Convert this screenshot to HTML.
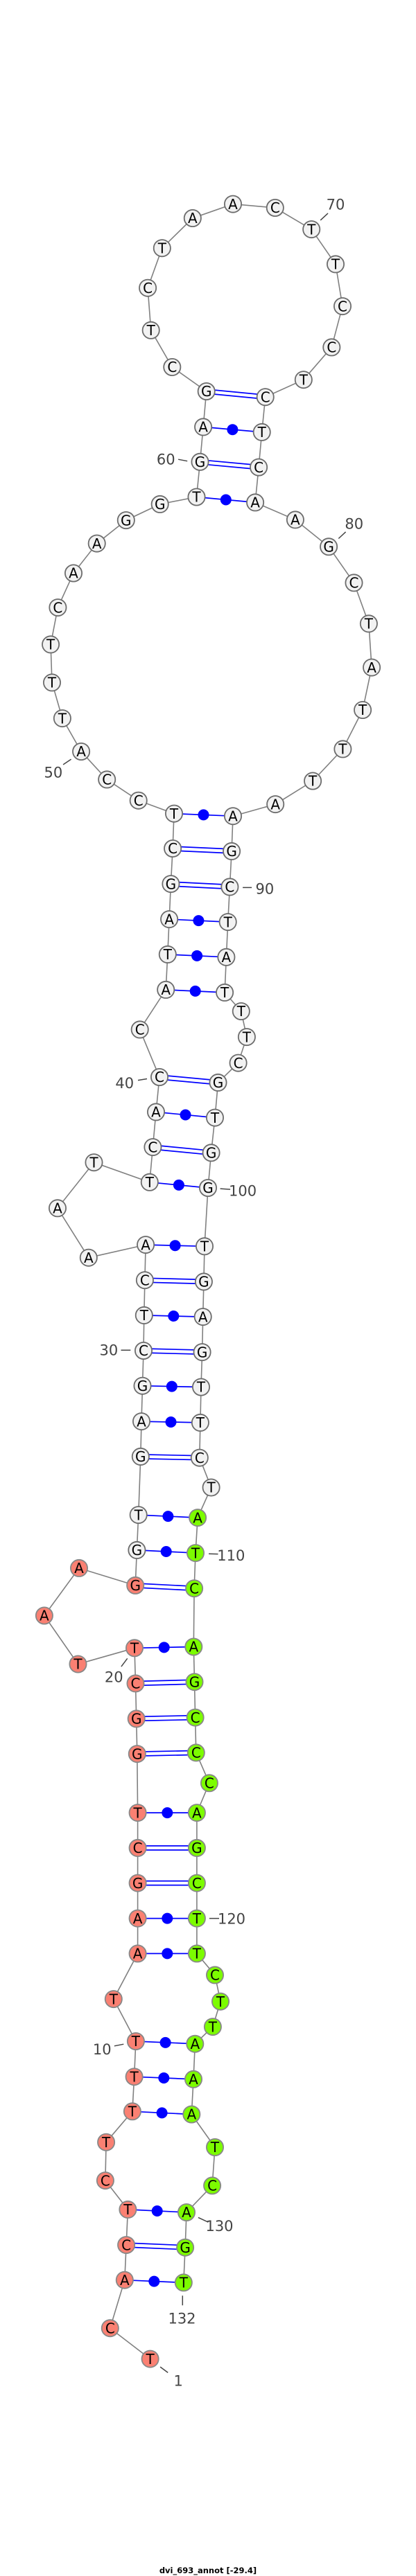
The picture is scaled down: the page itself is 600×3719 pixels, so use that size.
<!DOCTYPE html>
<html><head><meta charset="utf-8"><style>
html,body{margin:0;padding:0;background:#fff}
svg{display:block}
.n text,.l text{font-family:"DejaVu Sans","Liberation Sans",sans-serif;text-anchor:middle}
.n text{font-size:20px;fill:#000}
.l text{font-size:21px;fill:#444}
</style></head><body>
<svg xmlns="http://www.w3.org/2000/svg" width="600" height="3719" viewBox="0 0 600 3719">
<rect width="600" height="3719" fill="#fff"/>
<polyline fill="none" stroke="#808080" stroke-width="1.6" points="216.6,3405.6 158.8,3361.2 179.8,3291.7 182.1,3241.1 184.4,3189.9 151.9,3148.1 153.1,3092.7 190.9,3048.3 193.6,2998.2 195.9,2947 163.8,2886.1 198.6,2820.4 198.6,2769.6 198.6,2718.6 198.6,2667.9 198.6,2617.1 197.8,2532.1 196.7,2481.4 195.5,2430.4 194,2379.3 112.5,2402.5 63.9,2332.5 114,2263.9 195.2,2288.9 197.4,2237.9 199.7,2187.1 202.8,2102.9 204,2052.1 205.5,2000.7 207,1950 207.8,1898.9 208.9,1848.2 210.1,1797.1 127.8,1815.7 83,1744.3 135.5,1678.2 215.8,1706.8 220.4,1656.1 225,1605.4 230,1555 201.7,1486.4 239.2,1428.9 241.8,1377.9 244.1,1327.1 246.4,1276.1 249.1,1225 251,1174.6 199.7,1155.7 154.2,1125.4 117.1,1085 89.9,1037.1 75,985.4 73.1,930.4 83.4,877.1 106,827.5 139.7,784.6 181.8,751.1 230.7,727.9 283.5,717.5 288.5,666.8 293.1,616.4 297.7,565 248.3,530 217.7,476.8 213.1,415.7 233.8,358.2 277.8,315 336,294.6 396.8,300 449.2,331.1 484,381.4 494,442.1 478.3,501.4 437.8,548.2 382.7,573.2 377.7,623.9 373.1,674.6 368.1,725.4 425.9,750.4 474.1,789.3 510.5,841.4 531.9,900.4 536.1,963.6 523.1,1025 494.4,1081.4 451.1,1127.5 397.2,1161.1 336,1178.2 334.1,1228.9 331.4,1280.4 328.7,1331.1 326.4,1381.8 324.1,1432.9 347.8,1460 355.9,1497.1 343.6,1534.6 314.5,1562.9 310,1613.6 304.6,1664.3 300,1715 295,1799.3 293.9,1850.4 292.7,1901.1 291.6,1952.1 290,2002.5 288.9,2053.9 287.8,2104.6 304.6,2147.5 285.1,2191.1 282,2242.1 280.1,2293.2 279.3,2377.5 280.5,2428.2 281.6,2479.6 282.8,2530.4 301.9,2574.3 283.9,2617.1 283.9,2667.9 283.9,2718.6 283.9,2769.6 283.9,2820.4 310,2851.4 318,2889.6 306.9,2926.1 281.3,2950.7 279,3001.8 276.3,3052.5 310,3100 306.1,3155.4 269,3194 267.1,3244.7 264.8,3295.4"/>
<path fill="none" stroke="#0000ff" stroke-width="1.7" d="M283.5,717.5L368.1,725.4M293.1,616.4L377.7,623.9M251,1174.6L336,1178.2M244.1,1327.1L328.7,1331.1M241.8,1377.9L326.4,1381.8M239.2,1428.9L324.1,1432.9M225,1605.4L310,1613.6M215.8,1706.8L300,1715M210.1,1797.1L295,1799.3M207.8,1898.9L292.7,1901.1M205.5,2000.7L290,2002.5M204,2052.1L288.9,2053.9M199.7,2187.1L285.1,2191.1M197.4,2237.9L282,2242.1M194,2379.3L279.3,2377.5M198.6,2617.1L283.9,2617.1M198.6,2769.6L283.9,2769.6M198.6,2820.4L283.9,2820.4M195.9,2947L281.3,2950.7M193.6,2998.2L279,3001.8M190.9,3048.3L276.3,3052.5M184.4,3189.9L269,3194M179.8,3291.7L264.8,3295.4"/>
<g fill="none" stroke="#0000ff" stroke-width="1.7">
<path transform="translate(0,-3)" d="M297.7,565L382.7,573.2M288.5,666.8L373.1,674.6M249.1,1225L334.1,1228.9M246.4,1276.1L331.4,1280.4M230,1555L314.5,1562.9M220.4,1656.1L304.6,1664.3M208.9,1848.2L293.9,1850.4M207,1950L291.6,1952.1M202.8,2102.9L287.8,2104.6M195.2,2288.9L280.1,2293.2M195.5,2430.4L280.5,2428.2M196.7,2481.4L281.6,2479.6M197.8,2532.1L282.8,2530.4M198.6,2667.9L283.9,2667.9M198.6,2718.6L283.9,2718.6M182.1,3241.1L267.1,3244.7"/>
<path transform="translate(0,3)" d="M297.7,565L382.7,573.2M288.5,666.8L373.1,674.6M249.1,1225L334.1,1228.9M246.4,1276.1L331.4,1280.4M230,1555L314.5,1562.9M220.4,1656.1L304.6,1664.3M208.9,1848.2L293.9,1850.4M207,1950L291.6,1952.1M202.8,2102.9L287.8,2104.6M195.2,2288.9L280.1,2293.2M195.5,2430.4L280.5,2428.2M196.7,2481.4L281.6,2479.6M197.8,2532.1L282.8,2530.4M198.6,2667.9L283.9,2667.9M198.6,2718.6L283.9,2718.6M182.1,3241.1L267.1,3244.7"/>
</g>
<g fill="#0000ff">
<circle cx="325.8" cy="721.5" r="8"/><circle cx="335.4" cy="620.2" r="8"/><circle cx="293.5" cy="1176.4" r="8"/><circle cx="286.4" cy="1329.1" r="8"/><circle cx="284.1" cy="1379.9" r="8"/><circle cx="281.7" cy="1430.9" r="8"/><circle cx="267.5" cy="1609.5" r="8"/><circle cx="257.9" cy="1710.9" r="8"/><circle cx="252.6" cy="1798.2" r="8"/><circle cx="250.3" cy="1900" r="8"/><circle cx="247.8" cy="2001.6" r="8"/><circle cx="246.5" cy="2053" r="8"/><circle cx="242.4" cy="2189.1" r="8"/><circle cx="239.7" cy="2240" r="8"/><circle cx="236.7" cy="2378.4" r="8"/><circle cx="241.3" cy="2617.1" r="8"/><circle cx="241.3" cy="2769.6" r="8"/><circle cx="241.3" cy="2820.4" r="8"/><circle cx="238.6" cy="2948.9" r="8"/><circle cx="236.3" cy="3000" r="8"/><circle cx="233.6" cy="3050.4" r="8"/><circle cx="226.7" cy="3192" r="8"/><circle cx="222.3" cy="3293.6" r="8"/>
</g>
<g fill="#f2f2f2" stroke="#6c6c6c" stroke-width="1.8">
<circle cx="199.7" cy="2187.1" r="12.1"/><circle cx="202.8" cy="2102.9" r="12.1"/><circle cx="197.4" cy="2237.9" r="12.1"/><circle cx="204" cy="2052.1" r="12.1"/><circle cx="205.5" cy="2000.7" r="12.1"/><circle cx="207" cy="1950" r="12.1"/><circle cx="207.8" cy="1898.9" r="12.1"/><circle cx="208.9" cy="1848.2" r="12.1"/><circle cx="210.1" cy="1797.1" r="12.1"/><circle cx="127.8" cy="1815.7" r="12.1"/><circle cx="83" cy="1744.3" r="12.1"/><circle cx="135.5" cy="1678.2" r="12.1"/><circle cx="215.8" cy="1706.8" r="12.1"/><circle cx="220.4" cy="1656.1" r="12.1"/><circle cx="225" cy="1605.4" r="12.1"/><circle cx="230" cy="1555" r="12.1"/><circle cx="201.7" cy="1486.4" r="12.1"/><circle cx="239.2" cy="1428.9" r="12.1"/><circle cx="241.8" cy="1377.9" r="12.1"/><circle cx="244.1" cy="1327.1" r="12.1"/><circle cx="246.4" cy="1276.1" r="12.1"/><circle cx="249.1" cy="1225" r="12.1"/><circle cx="251" cy="1174.6" r="12.1"/><circle cx="199.7" cy="1155.7" r="12.1"/><circle cx="154.2" cy="1125.4" r="12.1"/><circle cx="117.1" cy="1085" r="12.1"/><circle cx="89.9" cy="1037.1" r="12.1"/><circle cx="75" cy="985.4" r="12.1"/><circle cx="73.1" cy="930.4" r="12.1"/><circle cx="83.4" cy="877.1" r="12.1"/><circle cx="106" cy="827.5" r="12.1"/><circle cx="139.7" cy="784.6" r="12.1"/><circle cx="181.8" cy="751.1" r="12.1"/><circle cx="230.7" cy="727.9" r="12.1"/><circle cx="283.5" cy="717.5" r="12.1"/><circle cx="288.5" cy="666.8" r="12.1"/><circle cx="293.1" cy="616.4" r="12.1"/><circle cx="297.7" cy="565" r="12.1"/><circle cx="248.3" cy="530" r="12.1"/><circle cx="217.7" cy="476.8" r="12.1"/><circle cx="213.1" cy="415.7" r="12.1"/><circle cx="233.8" cy="358.2" r="12.1"/><circle cx="277.8" cy="315" r="12.1"/><circle cx="336" cy="294.6" r="12.1"/><circle cx="396.8" cy="300" r="12.1"/><circle cx="449.2" cy="331.1" r="12.1"/><circle cx="484" cy="381.4" r="12.1"/><circle cx="494" cy="442.1" r="12.1"/><circle cx="478.3" cy="501.4" r="12.1"/><circle cx="437.8" cy="548.2" r="12.1"/><circle cx="382.7" cy="573.2" r="12.1"/><circle cx="377.7" cy="623.9" r="12.1"/><circle cx="373.1" cy="674.6" r="12.1"/><circle cx="368.1" cy="725.4" r="12.1"/><circle cx="425.9" cy="750.4" r="12.1"/><circle cx="474.1" cy="789.3" r="12.1"/><circle cx="510.5" cy="841.4" r="12.1"/><circle cx="531.9" cy="900.4" r="12.1"/><circle cx="536.1" cy="963.6" r="12.1"/><circle cx="523.1" cy="1025" r="12.1"/><circle cx="494.4" cy="1081.4" r="12.1"/><circle cx="451.1" cy="1127.5" r="12.1"/><circle cx="397.2" cy="1161.1" r="12.1"/><circle cx="336" cy="1178.2" r="12.1"/><circle cx="334.1" cy="1228.9" r="12.1"/><circle cx="331.4" cy="1280.4" r="12.1"/><circle cx="328.7" cy="1331.1" r="12.1"/><circle cx="326.4" cy="1381.8" r="12.1"/><circle cx="324.1" cy="1432.9" r="12.1"/><circle cx="347.8" cy="1460" r="12.1"/><circle cx="355.9" cy="1497.1" r="12.1"/><circle cx="343.6" cy="1534.6" r="12.1"/><circle cx="314.5" cy="1562.9" r="12.1"/><circle cx="310" cy="1613.6" r="12.1"/><circle cx="304.6" cy="1664.3" r="12.1"/><circle cx="300" cy="1715" r="12.1"/><circle cx="295" cy="1799.3" r="12.1"/><circle cx="293.9" cy="1850.4" r="12.1"/><circle cx="292.7" cy="1901.1" r="12.1"/><circle cx="291.6" cy="1952.1" r="12.1"/><circle cx="290" cy="2002.5" r="12.1"/><circle cx="288.9" cy="2053.9" r="12.1"/><circle cx="287.8" cy="2104.6" r="12.1"/><circle cx="304.6" cy="2147.5" r="12.1"/>
</g>
<g fill="#fa8072" stroke="#888" stroke-width="1.8">
<circle cx="216.6" cy="3405.6" r="12.1"/><circle cx="158.8" cy="3361.2" r="12.1"/><circle cx="179.8" cy="3291.7" r="12.1"/><circle cx="182.1" cy="3241.1" r="12.1"/><circle cx="184.4" cy="3189.9" r="12.1"/><circle cx="151.9" cy="3148.1" r="12.1"/><circle cx="153.1" cy="3092.7" r="12.1"/><circle cx="190.9" cy="3048.3" r="12.1"/><circle cx="193.6" cy="2998.2" r="12.1"/><circle cx="195.9" cy="2947" r="12.1"/><circle cx="163.8" cy="2886.1" r="12.1"/><circle cx="198.6" cy="2820.4" r="12.1"/><circle cx="198.6" cy="2769.6" r="12.1"/><circle cx="198.6" cy="2718.6" r="12.1"/><circle cx="198.6" cy="2667.9" r="12.1"/><circle cx="198.6" cy="2617.1" r="12.1"/><circle cx="197.8" cy="2532.1" r="12.1"/><circle cx="196.7" cy="2481.4" r="12.1"/><circle cx="195.5" cy="2430.4" r="12.1"/><circle cx="194" cy="2379.3" r="12.1"/><circle cx="112.5" cy="2402.5" r="12.1"/><circle cx="63.9" cy="2332.5" r="12.1"/><circle cx="114" cy="2263.9" r="12.1"/><circle cx="195.2" cy="2288.9" r="12.1"/>
</g>
<g fill="#7cfc00" stroke="#888" stroke-width="1.8">
<circle cx="285.1" cy="2191.1" r="12.1"/><circle cx="282" cy="2242.1" r="12.1"/><circle cx="280.1" cy="2293.2" r="12.1"/><circle cx="279.3" cy="2377.5" r="12.1"/><circle cx="280.5" cy="2428.2" r="12.1"/><circle cx="281.6" cy="2479.6" r="12.1"/><circle cx="282.8" cy="2530.4" r="12.1"/><circle cx="301.9" cy="2574.3" r="12.1"/><circle cx="283.9" cy="2617.1" r="12.1"/><circle cx="283.9" cy="2667.9" r="12.1"/><circle cx="283.9" cy="2718.6" r="12.1"/><circle cx="283.9" cy="2769.6" r="12.1"/><circle cx="283.9" cy="2820.4" r="12.1"/><circle cx="310" cy="2851.4" r="12.1"/><circle cx="318" cy="2889.6" r="12.1"/><circle cx="306.9" cy="2926.1" r="12.1"/><circle cx="281.3" cy="2950.7" r="12.1"/><circle cx="279" cy="3001.8" r="12.1"/><circle cx="276.3" cy="3052.5" r="12.1"/><circle cx="310" cy="3100" r="12.1"/><circle cx="306.1" cy="3155.4" r="12.1"/><circle cx="269" cy="3194" r="12.1"/><circle cx="267.1" cy="3244.7" r="12.1"/><circle cx="264.8" cy="3295.4" r="12.1"/>
</g>
<g class="n" transform="translate(0,7.2)">
<text x="216.6" y="3405.6">T</text><text x="158.8" y="3361.2">C</text><text x="179.8" y="3291.7">A</text><text x="182.1" y="3241.1">C</text><text x="184.4" y="3189.9">T</text><text x="151.9" y="3148.1">C</text><text x="153.1" y="3092.7">T</text><text x="190.9" y="3048.3">T</text><text x="193.6" y="2998.2">T</text><text x="195.9" y="2947">T</text><text x="163.8" y="2886.1">T</text><text x="198.6" y="2820.4">A</text><text x="198.6" y="2769.6">A</text><text x="198.6" y="2718.6">G</text><text x="198.6" y="2667.9">C</text><text x="198.6" y="2617.1">T</text><text x="197.8" y="2532.1">G</text><text x="196.7" y="2481.4">G</text><text x="195.5" y="2430.4">C</text><text x="194" y="2379.3">T</text><text x="112.5" y="2402.5">T</text><text x="63.9" y="2332.5">A</text><text x="114" y="2263.9">A</text><text x="195.2" y="2288.9">G</text><text x="197.4" y="2237.9">G</text><text x="199.7" y="2187.1">T</text><text x="202.8" y="2102.9">G</text><text x="204" y="2052.1">A</text><text x="205.5" y="2000.7">G</text><text x="207" y="1950">C</text><text x="207.8" y="1898.9">T</text><text x="208.9" y="1848.2">C</text><text x="210.1" y="1797.1">A</text><text x="127.8" y="1815.7">A</text><text x="83" y="1744.3">A</text><text x="135.5" y="1678.2">T</text><text x="215.8" y="1706.8">T</text><text x="220.4" y="1656.1">C</text><text x="225" y="1605.4">A</text><text x="230" y="1555">C</text><text x="201.7" y="1486.4">C</text><text x="239.2" y="1428.9">A</text><text x="241.8" y="1377.9">T</text><text x="244.1" y="1327.1">A</text><text x="246.4" y="1276.1">G</text><text x="249.1" y="1225">C</text><text x="251" y="1174.6">T</text><text x="199.7" y="1155.7">C</text><text x="154.2" y="1125.4">C</text><text x="117.1" y="1085">A</text><text x="89.9" y="1037.1">T</text><text x="75" y="985.4">T</text><text x="73.1" y="930.4">T</text><text x="83.4" y="877.1">C</text><text x="106" y="827.5">A</text><text x="139.7" y="784.6">A</text><text x="181.8" y="751.1">G</text><text x="230.7" y="727.9">G</text><text x="283.5" y="717.5">T</text><text x="288.5" y="666.8">G</text><text x="293.1" y="616.4">A</text><text x="297.7" y="565">G</text><text x="248.3" y="530">C</text><text x="217.7" y="476.8">T</text><text x="213.1" y="415.7">C</text><text x="233.8" y="358.2">T</text><text x="277.8" y="315">A</text><text x="336" y="294.6">A</text><text x="396.8" y="300">C</text><text x="449.2" y="331.1">T</text><text x="484" y="381.4">T</text><text x="494" y="442.1">C</text><text x="478.3" y="501.4">C</text><text x="437.8" y="548.2">T</text><text x="382.7" y="573.2">C</text><text x="377.7" y="623.9">T</text><text x="373.1" y="674.6">C</text><text x="368.1" y="725.4">A</text><text x="425.9" y="750.4">A</text><text x="474.1" y="789.3">G</text><text x="510.5" y="841.4">C</text><text x="531.9" y="900.4">T</text><text x="536.1" y="963.6">A</text><text x="523.1" y="1025">T</text><text x="494.4" y="1081.4">T</text><text x="451.1" y="1127.5">T</text><text x="397.2" y="1161.1">A</text><text x="336" y="1178.2">A</text><text x="334.1" y="1228.9">G</text><text x="331.4" y="1280.4">C</text><text x="328.7" y="1331.1">T</text><text x="326.4" y="1381.8">A</text><text x="324.1" y="1432.9">T</text><text x="347.8" y="1460">T</text><text x="355.9" y="1497.1">T</text><text x="343.6" y="1534.6">C</text><text x="314.5" y="1562.9">G</text><text x="310" y="1613.6">T</text><text x="304.6" y="1664.3">G</text><text x="300" y="1715">G</text><text x="295" y="1799.3">T</text><text x="293.9" y="1850.4">G</text><text x="292.7" y="1901.1">A</text><text x="291.6" y="1952.1">G</text><text x="290" y="2002.5">T</text><text x="288.9" y="2053.9">T</text><text x="287.8" y="2104.6">C</text><text x="304.6" y="2147.5">T</text><text x="285.1" y="2191.1">A</text><text x="282" y="2242.1">T</text><text x="280.1" y="2293.2">C</text><text x="279.3" y="2377.5">A</text><text x="280.5" y="2428.2">G</text><text x="281.6" y="2479.6">C</text><text x="282.8" y="2530.4">C</text><text x="301.9" y="2574.3">C</text><text x="283.9" y="2617.1">A</text><text x="283.9" y="2667.9">G</text><text x="283.9" y="2718.6">C</text><text x="283.9" y="2769.6">T</text><text x="283.9" y="2820.4">T</text><text x="310" y="2851.4">C</text><text x="318" y="2889.6">T</text><text x="306.9" y="2926.1">T</text><text x="281.3" y="2950.7">A</text><text x="279" y="3001.8">A</text><text x="276.3" y="3052.5">A</text><text x="310" y="3100">T</text><text x="306.1" y="3155.4">C</text><text x="269" y="3194">A</text><text x="267.1" y="3244.7">G</text><text x="264.8" y="3295.4">T</text>
</g>
<path fill="none" stroke="#444" stroke-width="1.5" d="M462.2,317.9L473,307.9M257.1,663.2L270.2,665.7M488.3,777.5L498.6,767.9M91.1,1103.9L102.6,1096.1M350.1,1281.4L363.1,1281.4M199,1559.6L212,1557.5M317.6,1716.1L332.1,1717.1M174.5,1949.3L188.3,1949.3M301.1,2243.2L314.5,2243.6M183.7,2394.3L174.9,2406.1M301.9,2769.6L316,2769.6M164.9,2953.8L178.3,2951.2M285.9,3201.4L300.4,3208.2M263.3,3314.2L263.3,3328.3M231.1,3417.1L242.2,3425.4"/>
<g class="l" transform="translate(0,7.7)">
<text x="484" y="294.6">70</text><text x="239.2" y="662.9">60</text><text x="510.8" y="755.7">80</text><text x="76.9" y="1115">50</text><text x="381.9" y="1282.9">90</text><text x="179.8" y="1563.2">40</text><text x="350.1" y="1718.6">100</text><text x="156.9" y="1948.9">30</text><text x="333.3" y="2245.4">110</text><text x="164.2" y="2420.7">20</text><text x="334" y="2770">120</text><text x="147.3" y="2958.5">10</text><text x="316.5" y="3213.4">130</text><text x="262.5" y="3346.6">132</text><text x="257.2" y="3436.9">1</text>
</g>
<text x="300" y="3715" text-anchor="middle" font-family="'DejaVu Sans','Liberation Sans',sans-serif" font-weight="bold" font-size="11.5" fill="#000">dvi_693_annot [-29.4]</text>
</svg>
</body></html>
